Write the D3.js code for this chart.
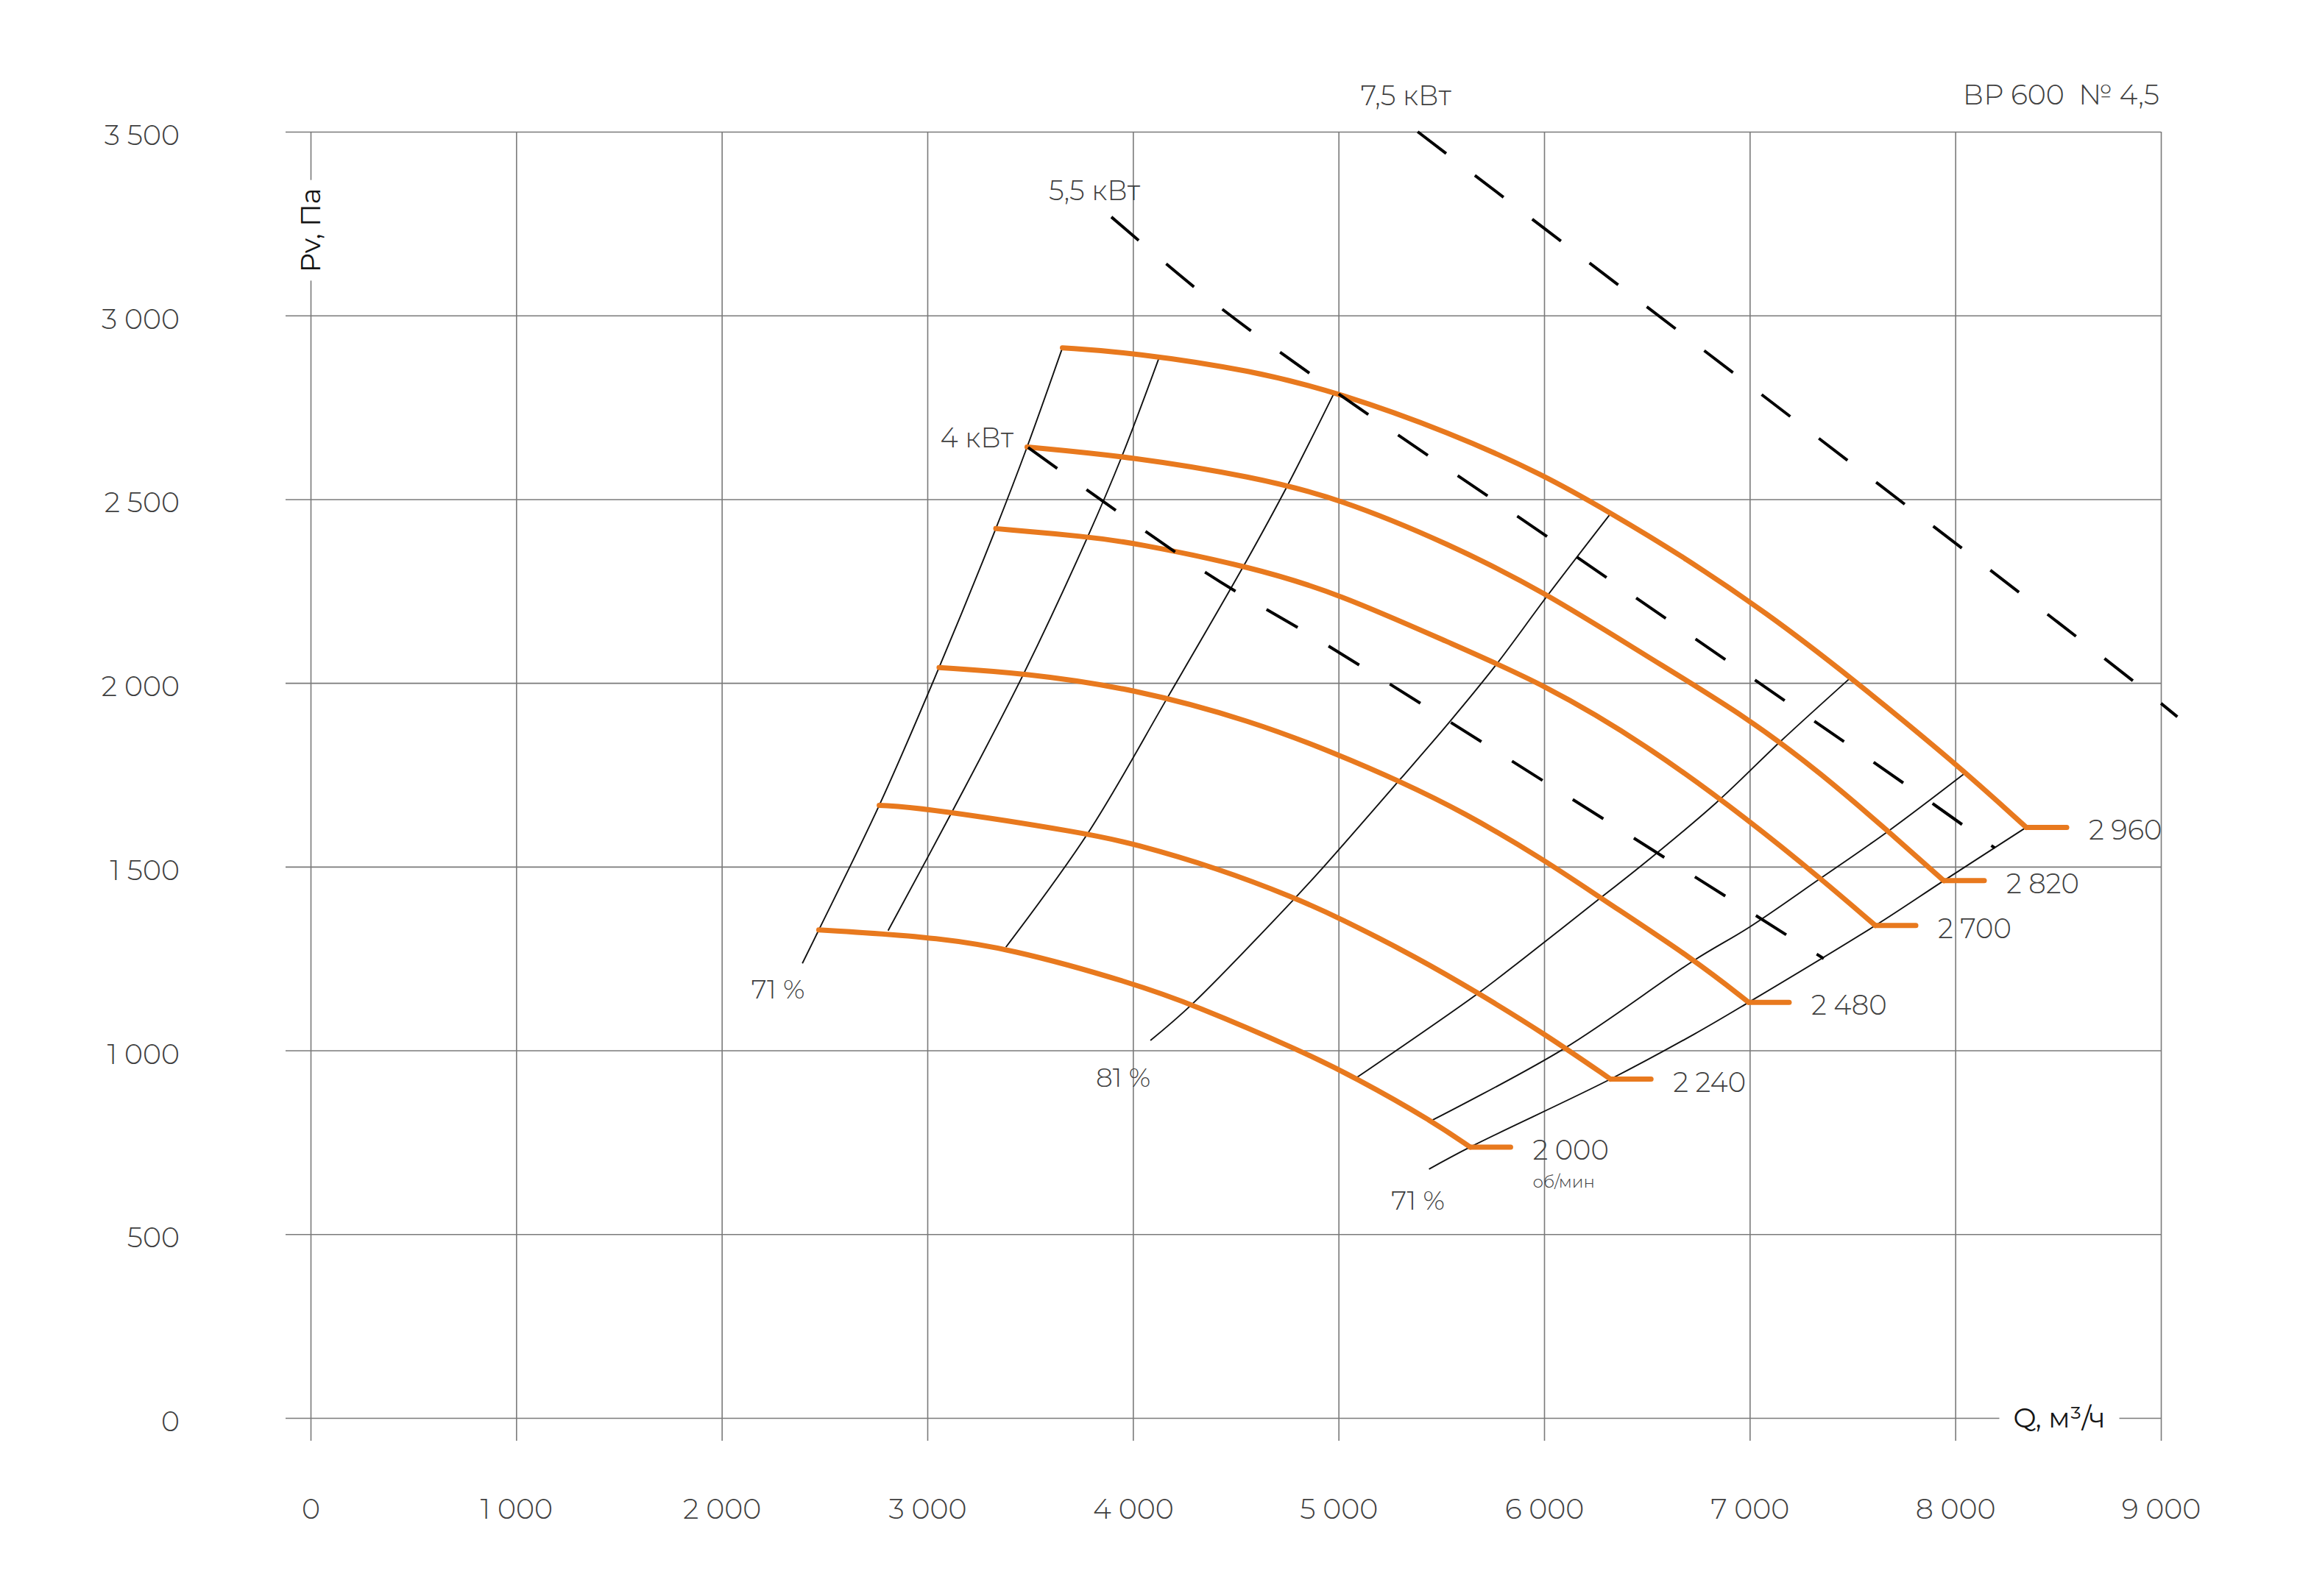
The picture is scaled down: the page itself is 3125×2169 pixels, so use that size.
<!DOCTYPE html>
<html><head><meta charset="utf-8">
<script src="https://cdn.jsdelivr.net/npm/d3@7"></script>
<style>html,body{margin:0;padding:0;background:#fff;} svg{display:block}</style>
</head><body>
<svg id="chart" width="3125" height="2169"></svg>
<script>
// ---------- DATA ----------
const TITLE = "ВР 600\u00A0 № 4,5";
const X_TITLE = "Q, м³/ч";
const Y_TITLE = "Pv, Па";
const RPM_UNIT = "об/мин";
const Q_TICKS = [0, 1000, 2000, 3000, 4000, 5000, 6000, 7000, 8000, 9000];
const P_TICKS = [0, 500, 1000, 1500, 2000, 2500, 3000, 3500];

const RPM = [2000, 2240, 2480, 2700, 2820, 2960];
const CURVE_2000 = [[2472,1328],[3000,1310],[3400,1278],[4000,1183],[4300,1123],[4814,1000],[5085,925],[5452,809],[5640,737]];
const CURVE_2240 = [[2766,1667],[3000,1659],[3784,1590],[4000,1563],[4412,1496],[4789,1415],[5000,1362],[5385,1252],[5680,1156],[6000,1046],[6323,922]];
const CURVE_2480 = [[3057,2042],[3472,2027],[4000,1985],[4582,1896],[5000,1805],[5296,1733],[5603,1650],[6000,1519],[6274,1415],[6729,1248],[6995,1131]];
const CURVE_2700 = [[3333,2420],[3780,2398],[4000,2382],[4582,2315],[5000,2243],[5540,2109],[6000,1997],[6498,1832],[7000,1625],[7351,1465],[7611,1340]];
const CURVE_2820 = [[3485,2642],[4000,2615],[4582,2561],[5000,2503],[5540,2378],[6000,2248],[6498,2073],[7000,1902],[7351,1752],[7677,1595],[7944,1462]];
const CURVE_2960 = [[3657,2912],[4000,2899],[4582,2850],[5000,2790],[5540,2682],[6000,2566],[6322,2463],[6657,2351],[7085,2190],[7492,2015],[8000,1782],[8345,1607]];
const RPM_CURVES = [CURVE_2000, CURVE_2240, CURVE_2480, CURVE_2700, CURVE_2820, CURVE_2960];

// efficiency lines (left to right)
const EFF_A = [[2392,1237],[2472,1328],[2766,1667],[3057,2042],[3333,2420],[3485,2642],[3657,2912]];
const EFF_B = [[2809,1326],[3131,1661],[3472,2029],[3780,2398],[3945,2615],[4129,2888]];
const EFF_C = [[3382,1281],[3784,1594],[4170,1962],[4540,2320],[4745,2530],[4975,2785]];
const EFF_D = [[4085,1027],[4286,1125],[4789,1415],[4941,1508],[5300,1738],[5540,1894],[5763,2047],[6018,2239],[6322,2460]];
const EFF_E = [[5085,925],[5680,1156],[5904,1252],[6274,1415],[6467,1500],[6837,1674],[7148,1840],[7492,2015]];
const EFF_F = [[5452,809],[6094,1004],[6729,1245],[7000,1336],[7336,1465],[7677,1598],[8041,1752]];
const EFF_G = [[5440,677],[5640,737],[6323,922],[6729,1044],[6995,1131],[7611,1340],[7944,1462],[8345,1607]];
const EFF_LINES = [EFF_A, EFF_B, EFF_C, EFF_D, EFF_E, EFF_F, EFF_G];
const EFF_LABELS = ["71 %", "81 %", "71 %"];   // for lines A, D, G
const EFF_LABEL_LINES = [EFF_A, EFF_D, EFF_G];

// power lines
const POWER_LABELS = ["4 кВт", "5,5 кВт", "7,5 кВт"];
const POWER_4 = [[3490,2641],[4355,2300],[4938,2105],[6088,1701],[7360,1250]];
const POWER_55 = [[3895,3268],[4361,3049],[4926,2816],[6088,2370],[7836,1693],[8192,1551]];
const POWER_75 = [[5385,3500],[7878,2433],[8877,2000],[9080,1908]];
const POWER_LINES = [POWER_4, POWER_55, POWER_75];

// ---------- LAYOUT ----------
const svg = d3.select("#chart");
const FONT = "Montserrat, Inter, 'DejaVu Sans', sans-serif";
const GREY_TEXT = "#404040";
const ORANGE = "#E8791E";
const x = d3.scaleLinear().domain([0, 9000]).range([422, 2936]);
const y = d3.scaleLinear().domain([0, 3500]).range([1927, 179]);
const fmt = d3.formatLocale({decimal: ",", thousands: " ", grouping: [3], currency: ["", ""]}).format(",d");

svg.append("rect").attr("width", 3125).attr("height", 2169).attr("fill", "#fff");

// horizontal grid + y tick labels
const gy = svg.append("g").attr("transform", `translate(${x(9000)},0)`)
  .call(d3.axisLeft(y).tickValues(P_TICKS).tickFormat(fmt)
    .tickSize(x(9000) - 388).tickPadding(144));
// vertical grid + x tick labels
const gx = svg.append("g").attr("transform", `translate(0,${y(3500)})`)
  .call(d3.axisBottom(x).tickValues(Q_TICKS).tickFormat(fmt)
    .tickSize(1958 - y(3500)).tickPadding(93));
[gx, gy].forEach(g => {
  g.select(".domain").remove();
  g.selectAll(".tick line").attr("stroke", "#7a7a7a").attr("stroke-width", 1.6);
  g.selectAll(".tick text").attr("fill", GREY_TEXT).attr("font-family", FONT)
    .attr("font-weight", 300).attr("font-size", 38);
});
gx.selectAll(".tick text").attr("dy", "0.35em");
gy.selectAll(".tick text").attr("dy", "0.46em");

const smoothLine = d3.line().x(d => x(d[0])).y(d => y(d[1])).curve(d3.curveCatmullRom.alpha(0.5));
const rpmLine = d3.line().x(d => x(d[0])).y(d => y(d[1])).curve(d3.curveBasis);

// efficiency lines
svg.append("g").selectAll("path").data(EFF_LINES).join("path")
  .attr("d", smoothLine).attr("fill", "none").attr("stroke", "#111").attr("stroke-width", 1.9);

// rpm curves
svg.append("g").selectAll("path").data(RPM_CURVES).join("path")
  .attr("d", rpmLine).attr("fill", "none").attr("stroke", ORANGE)
  .attr("stroke-width", 7).attr("stroke-linecap", "round").attr("stroke-linejoin", "round");

// end ticks + rpm labels
const TICK_LEN = 55;
const ends = RPM_CURVES.map(c => c[c.length - 1]);
svg.append("g").selectAll("line").data(ends).join("line")
  .attr("x1", d => x(d[0])).attr("x2", d => x(d[0]) + TICK_LEN)
  .attr("y1", d => y(d[1])).attr("y2", d => y(d[1]))
  .attr("stroke", ORANGE).attr("stroke-width", 7).attr("stroke-linecap", "round");
svg.append("g").selectAll("text").data(ends).join("text")
  .attr("x", d => x(d[0]) + TICK_LEN + 30).attr("y", d => y(d[1]) + 17)
  .attr("font-family", FONT).attr("font-weight", 300).attr("font-size", 37).attr("fill", GREY_TEXT)
  .text((d, i) => fmt(RPM[i]));
svg.append("text")
  .attr("x", x(ends[0][0]) + TICK_LEN + 30).attr("y", y(ends[0][1]) + 55)
  .attr("font-family", FONT).attr("font-weight", 300).attr("font-size", 23).attr("fill", GREY_TEXT)
  .text(RPM_UNIT);

// power (dashed) lines
svg.append("g").selectAll("path").data(POWER_LINES).join("path")
  .attr("d", smoothLine).attr("fill", "none").attr("stroke", "#000")
  .attr("stroke-width", 4).attr("stroke-dasharray", "49,49");

// power labels
const powerOffsets = [[-20, 0, "end"], [-23, -23, "middle"], [-16, -36, "middle"]];
svg.append("g").selectAll("text").data(POWER_LINES).join("text")
  .attr("x", (d, i) => x(d[0][0]) + powerOffsets[i][0])
  .attr("y", (d, i) => y(d[0][1]) + powerOffsets[i][1])
  .attr("text-anchor", (d, i) => powerOffsets[i][2])
  .attr("font-family", FONT).attr("font-weight", 300).attr("font-size", 37).attr("fill", GREY_TEXT)
  .text((d, i) => POWER_LABELS[i]);

// efficiency labels
const effOffsets = [[-33, 48], [-37, 63], [-15, 55]];
svg.append("g").selectAll("text").data(EFF_LABEL_LINES).join("text")
  .attr("x", (d, i) => x(d[0][0]) + effOffsets[i][0])
  .attr("y", (d, i) => y(d[0][1]) + effOffsets[i][1])
  .attr("text-anchor", "middle")
  .attr("font-family", FONT).attr("font-weight", 300).attr("font-size", 36).attr("fill", GREY_TEXT)
  .text((d, i) => EFF_LABELS[i]);

// title
svg.append("text").attr("x", x(9000) - 2).attr("y", 142).attr("text-anchor", "end")
  .attr("font-family", FONT).attr("font-weight", 300).attr("font-size", 38).attr("fill", GREY_TEXT)
  .style("white-space", "pre").text(TITLE);

// axis titles with white gaps
function gapLabel(g, pad) {
  const t = g.select("text");
  const b = t.node().getBBox();
  g.insert("rect", "text").attr("x", b.x - pad).attr("y", b.y - 2)
    .attr("width", b.width + 2 * pad).attr("height", b.height + 4).attr("fill", "#fff");
}
const qg = svg.append("g").attr("transform", `translate(${x(9000) - 138},${y(0)})`);
qg.append("text").attr("text-anchor", "middle").attr("dy", "0.35em")
  .attr("font-family", FONT).attr("font-weight", 400).attr("font-size", 37).attr("fill", "#151515")
  .text(X_TITLE);
gapLabel(qg, 19);
const pg = svg.append("g").attr("transform", `translate(${x(0)},${y(3500) + 134}) rotate(-90)`);
pg.append("text").attr("text-anchor", "middle").attr("dy", "0.35em")
  .attr("font-family", FONT).attr("font-weight", 400).attr("font-size", 37).attr("fill", "#151515")
  .text(Y_TITLE);
gapLabel(pg, 11);
</script>
</body></html>
